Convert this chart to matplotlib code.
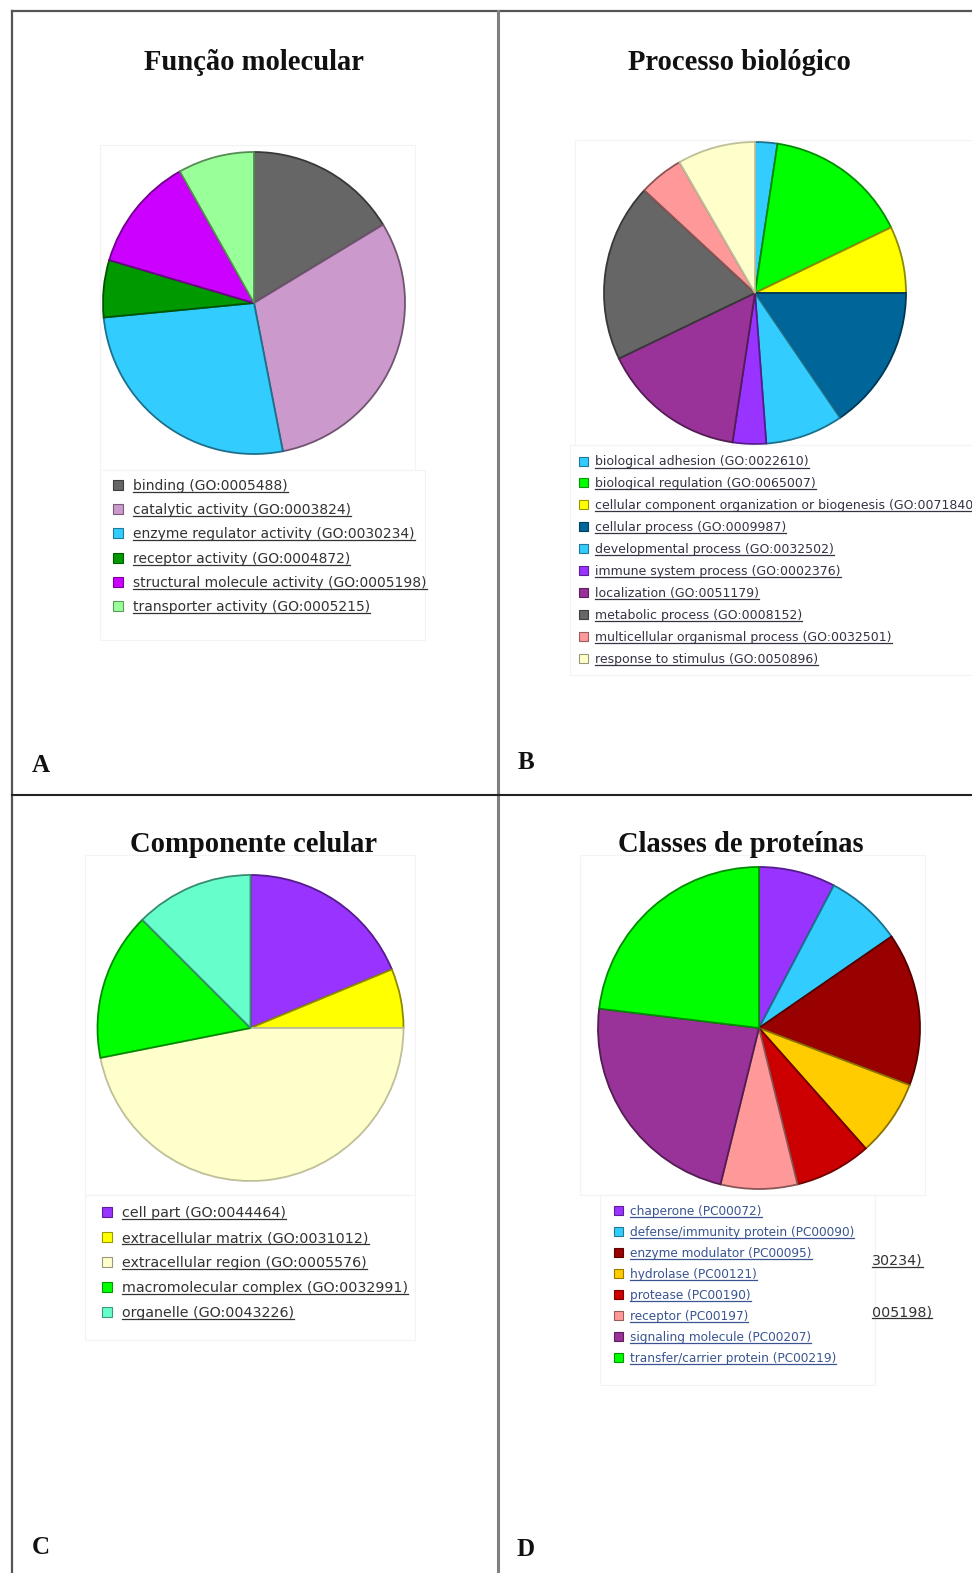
import matplotlib
matplotlib.use("Agg")
import matplotlib.pyplot as plt
from matplotlib.lines import Line2D
from matplotlib.patches import Rectangle
import matplotlib.colors as mcolors

W, H = 972, 1573

# ---- Panel A: Função molecular (gene counts) ----
mf_labels = ["binding (GO:0005488)", "catalytic activity (GO:0003824)",
             "enzyme regulator activity (GO:0030234)", "receptor activity (GO:0004872)",
             "structural molecule activity (GO:0005198)", "transporter activity (GO:0005215)"]
mf_counts = [8, 15, 13, 3, 6, 4]
mf_colors = ["#666666", "#CC99CC", "#33CCFF", "#009900", "#CC00FF", "#99FF99"]

# ---- Panel B: Processo biológico ----
bp_labels = ["biological adhesion (GO:0022610)", "biological regulation (GO:0065007)",
             "cellular component organization or biogenesis (GO:0071840)",
             "cellular process (GO:0009987)", "developmental process (GO:0032502)",
             "immune system process (GO:0002376)", "localization (GO:0051179)",
             "metabolic process (GO:0008152)", "multicellular organismal process (GO:0032501)",
             "response to stimulus (GO:0050896)"]
bp_counts = [2, 13, 6, 13, 7, 3, 13, 16, 4, 7]
bp_colors = ["#33CCFF", "#00FF00", "#FFFF00", "#006699", "#33CCFF",
             "#9933FF", "#993399", "#666666", "#FF9999", "#FFFFCC"]

# ---- Panel C: Componente celular ----
cc_labels = ["cell part (GO:0044464)", "extracellular matrix (GO:0031012)",
             "extracellular region (GO:0005576)", "macromolecular complex (GO:0032991)",
             "organelle (GO:0043226)"]
cc_counts = [6, 2, 15, 5, 4]
cc_colors = ["#9933FF", "#FFFF00", "#FFFFCC", "#00FF00", "#66FFCC"]

# ---- Panel D: Classes de proteínas ----
pc_labels = ["chaperone (PC00072)", "defense/immunity protein (PC00090)",
             "enzyme modulator (PC00095)", "hydrolase (PC00121)", "protease (PC00190)",
             "receptor (PC00197)", "signaling molecule (PC00207)",
             "transfer/carrier protein (PC00219)"]
pc_counts = [1, 1, 2, 1, 1, 1, 3, 3]
pc_colors = ["#9933FF", "#33CCFF", "#990000", "#FFCC00", "#CC0000",
             "#FF9999", "#993399", "#00FF00"]

titles = ["Função molecular", "Processo biológico", "Componente celular", "Classes de proteínas"]
letters = ["A", "B", "C", "D"]

fig = plt.figure(figsize=(W / 100, H / 100), dpi=100)
fig.patch.set_facecolor("white")


def fx(x):
    return x / W


def fy(y):
    return 1 - y / H


def darker(c, f=0.6):
    r, g, b = mcolors.to_rgb(c)
    return (r * f, g * f, b * f)


def pie_at(cx, cy, r, counts, colors):
    ax = fig.add_axes([fx(cx - r), fy(cy + r), 2 * r / W, 2 * r / H])
    wedges, _ = ax.pie(counts, colors=colors, startangle=90, counterclock=False,
                       radius=1.0, wedgeprops=dict(linewidth=1.3))
    for w, c in zip(wedges, colors):
        w.set_edgecolor(darker(c, 0.55 if c.upper() != "#FFFFCC" else 0.75))
        w.set_clip_on(False)
    ax.set_xlim(-1.0, 1.0)
    ax.set_ylim(-1.0, 1.0)
    ax.set_aspect("equal")
    ax.axis("off")


# faint frames around each chart/legend block
frames = [(100, 145, 315, 325), (100, 470, 325, 170),
          (575, 140, 397, 305), (570, 445, 402, 230),
          (85, 855, 330, 340), (85, 1195, 330, 145),
          (580, 855, 345, 340), (600, 1195, 275, 190)]
for (x0, y0, w, h) in frames:
    fig.patches.append(Rectangle((fx(x0), fy(y0 + h)), w / W, h / H, transform=fig.transFigure,
                                 fill=False, edgecolor="#f3f3f3", linewidth=0.8, zorder=0))

pie_at(254, 303, 151, mf_counts, mf_colors)
pie_at(755, 293, 151, bp_counts, bp_colors)
pie_at(250.5, 1028, 153, cc_counts, cc_colors)
pie_at(759, 1028, 161, pc_counts, pc_colors)

# titles and panel letters
serif = ["Liberation Serif", "DejaVu Serif"]
for t, (x, y) in zip(titles, [(254, 62), (739, 62), (254, 845), (741, 845)]):
    fig.text(fx(x), fy(y), t, ha="center", va="center", fontsize=20.6,
             fontweight="bold", family=serif, color="#111111")
for t, (x, y) in zip(letters, [(32, 766), (518, 763), (32, 1548), (516, 1549)]):
    fig.text(fx(x), fy(y), t, ha="left", va="center", fontsize=18,
             fontweight="bold", family=serif, color="#111111")

# legends
legend_texts = []


def legend(x_box, x_text, y0, dy, labels, colors, size, tcolor, box=10):
    for i, (lab, c) in enumerate(zip(labels, colors)):
        y = y0 + i * dy
        fig.patches.append(Rectangle((fx(x_box - box / 2), fy(y + box / 2)), box / W, box / H,
                                     transform=fig.transFigure, facecolor=c,
                                     edgecolor=darker(c, 0.6), linewidth=0.8))
        t = fig.text(fx(x_text), fy(y + 1), lab, ha="left", va="center", fontsize=size,
                     family=["DejaVu Sans"], color=tcolor)
        legend_texts.append(t)


legend(118, 133, 485, 24.2, mf_labels, mf_colors, 10.0, "#333333")
legend(583, 595, 461, 21.9, bp_labels, bp_colors, 9.0, "#333344", box=9)
legend(107, 122, 1212, 25, cc_labels, cc_colors, 10.3, "#333333")
legend(618, 630, 1210, 21.1, pc_labels, pc_colors, 8.7, "#3a5590", box=9)

# leftover fragments of overlapping legend text
for s, (x, y) in zip(["30234)", "005198)"], [(872, 1261), (872, 1312)]):
    legend_texts.append(fig.text(fx(x), fy(y), s, ha="left", va="center", fontsize=10.3,
                                 family=["DejaVu Sans"], color="#333333"))

# underline every legend entry
fig.canvas.draw()
renderer = fig.canvas.get_renderer()
for t in legend_texts:
    bb = t.get_window_extent(renderer)
    yline = bb.y0 + 1
    fig.lines.append(Line2D([bb.x0 / W, min(bb.x1, W) / W], [yline / H, yline / H],
                            transform=fig.transFigure, color=t.get_color(), linewidth=0.9))

# panel grid lines
fig.lines.append(Line2D([fx(12), fx(W)], [fy(11), fy(11)], transform=fig.transFigure,
                        color="#555555", linewidth=1.6))
fig.lines.append(Line2D([fx(12), fx(12)], [fy(11), fy(H)], transform=fig.transFigure,
                        color="#555555", linewidth=1.6))
fig.lines.append(Line2D([fx(498), fx(498)], [fy(11), fy(H)], transform=fig.transFigure,
                        color="#808080", linewidth=2.2))
fig.lines.append(Line2D([fx(12), fx(W)], [fy(795), fy(795)], transform=fig.transFigure,
                        color="#222222", linewidth=1.5))

fig.savefig("out.png", dpi=100, facecolor="white")
